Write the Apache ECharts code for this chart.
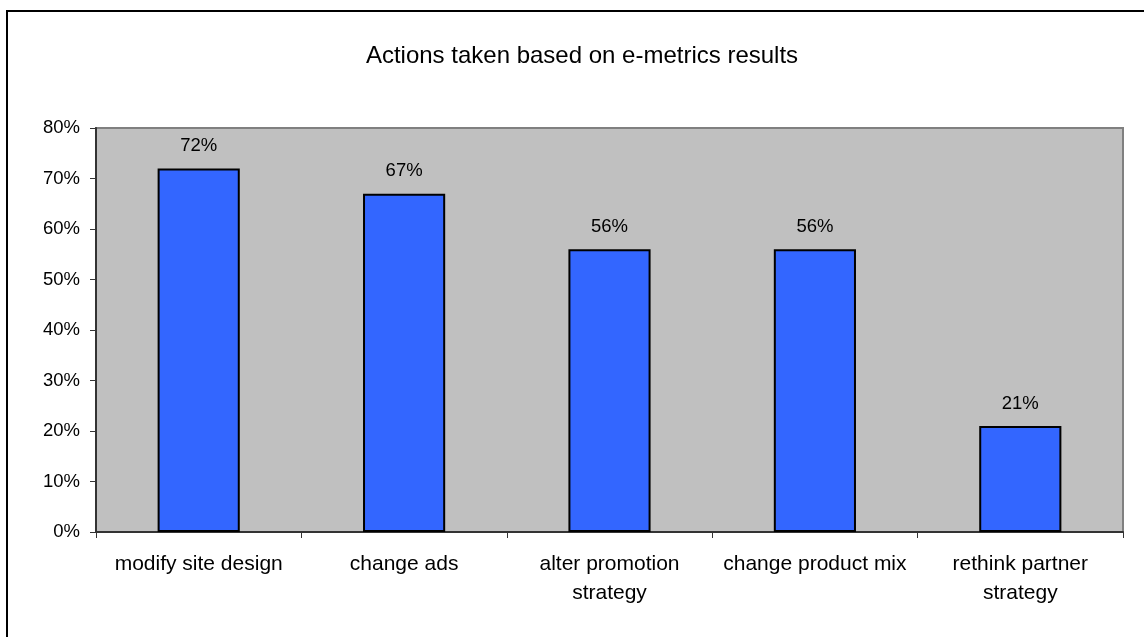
<!DOCTYPE html>
<html>
<head>
<meta charset="utf-8">
<script src="https://cdn.jsdelivr.net/npm/echarts@6/dist/echarts.min.js"></script>
<style>
  html, body { margin: 0; padding: 0; background: #fff; }
  #chart { width: 1144px; height: 637px; }
</style>
</head>
<body>
<div id="chart"></div>
<script>
// 分类与数值
const categories = ['modify site design', 'change ads', 'alter promotion\nstrategy', 'change product mix', 'rethink partner\nstrategy']
const percentValues = [72, 67, 56, 56, 21]
const chartTitle = 'Actions taken based on e-metrics results'

const fontFamily = '"Liberation Sans", Arial, sans-serif'

const chart = echarts.init(document.getElementById('chart'), null, { renderer: 'canvas' })

const option = {
    animation: false,
    title: {
        text: chartTitle,
        left: 577,
        textAlign: 'center',
        top: 39,
        textStyle: { fontFamily: fontFamily, fontSize: 24, fontWeight: 'normal', color: '#000' }
    },
    // 外框只有左边和上边
    graphic: [{
        type: 'polyline',
        shape: { points: [[7, 637], [7, 11], [1144, 11]] },
        style: { fill: 'none', stroke: '#000', lineWidth: 2 },
        z: -10
    }],
    grid: {
        left: 96, top: 128, right: 21, bottom: 105,
        show: true,
        backgroundColor: '#C0C0C0',
        borderColor: '#808080',
        borderWidth: 2
    },
    xAxis: {
        type: 'category',
        data: categories,
        axisLine: { lineStyle: { color: '#333', width: 2 } },
        axisTick: { show: true, length: 6, alignWithLabel: false, lineStyle: { color: '#333' } },
        axisLabel: {
            fontFamily: fontFamily, fontSize: 21, color: '#000',
            margin: 18, lineHeight: 29, interval: 0
        }
    },
    yAxis: {
        type: 'value',
        min: 0, max: 80, interval: 10,
        axisLine: { show: true, lineStyle: { color: '#333', width: 2 } },
        axisTick: { show: true, length: 6, lineStyle: { color: '#333' } },
        splitLine: { show: false },
        axisLabel: {
            fontFamily: fontFamily, fontSize: 18.5, color: '#000',
            margin: 16, formatter: '{value}%'
        }
    },
    series: [{
        type: 'bar',
        data: percentValues,
        barWidth: '40%',
        itemStyle: { color: '#3366FF', borderColor: '#000', borderWidth: 2 },
        label: {
            show: true, position: 'top', distance: 13,
            formatter: '{c}%',
            fontFamily: fontFamily, fontSize: 18.5, color: '#000'
        }
    }]
}

chart.setOption(option)
</script>
</body>
</html>
